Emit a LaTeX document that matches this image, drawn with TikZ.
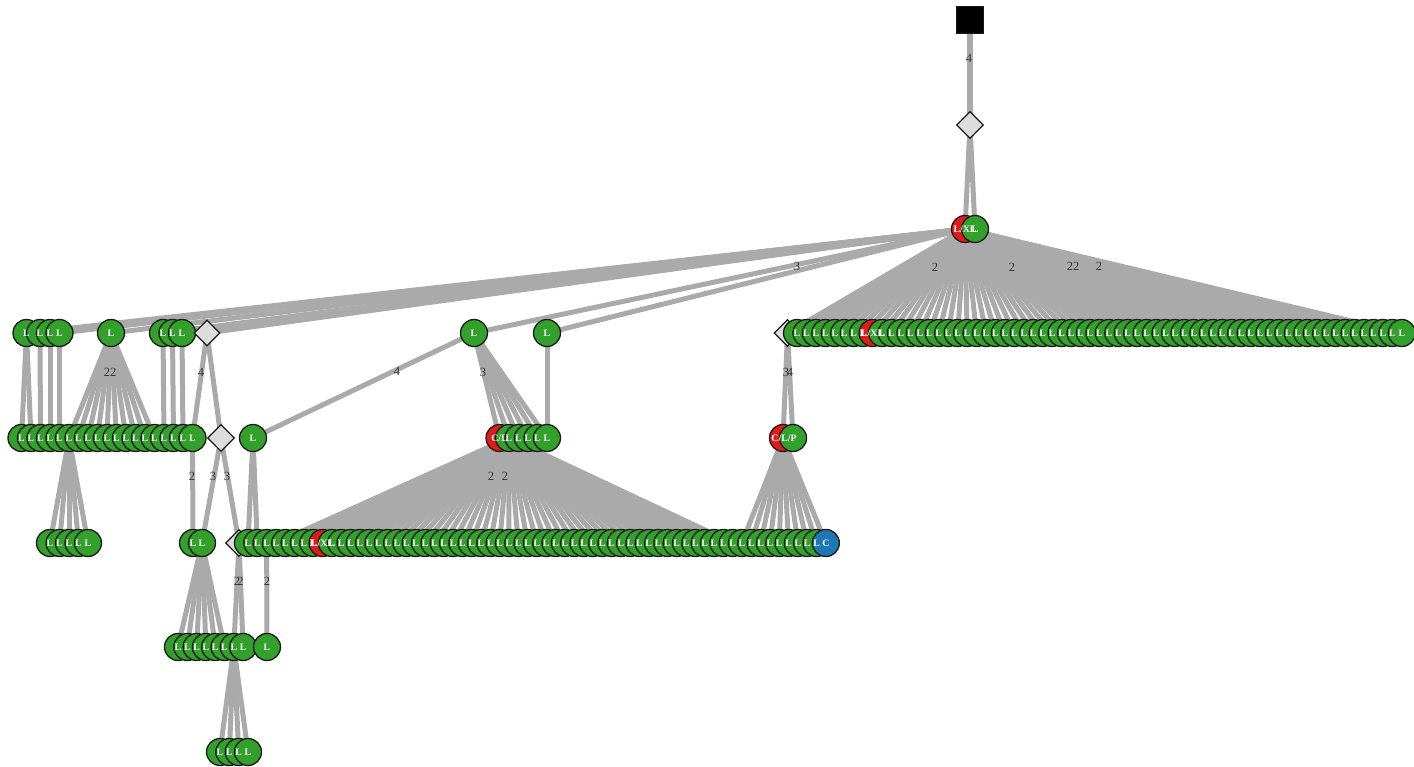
\documentclass[tikz,border=0pt]{standalone}
\usepackage{fontspec}
\setmainfont{Liberation Serif}
\usetikzlibrary{shapes.geometric}
\pgfdeclarelayer{bg}
\pgfsetlayers{bg,main}
\definecolor{lgreen}{HTML}{33A02C}
\definecolor{lred}{HTML}{E31A1C}
\definecolor{lblue}{HTML}{1F78B4}
\definecolor{egray}{HTML}{AAAAAA}
\definecolor{jgray}{HTML}{DDDDDD}
\definecolor{outl}{HTML}{1A1A1A}
\definecolor{ltext}{HTML}{333333}
\begin{document}
\begin{tikzpicture}[x=1pt,y=-1pt,
  leaf/.style={circle, draw=outl, line width=1.3pt, fill=lgreen, minimum size=27pt, inner sep=0pt},
  redleaf/.style={leaf, fill=lred},
  blueleaf/.style={leaf, fill=lblue},
  junc/.style={diamond, draw=outl, line width=1.3pt, fill=jgray, minimum size=27pt, inner sep=0pt},
  rootbox/.style={rectangle, draw=outl, line width=1pt, fill=black, minimum size=27pt, inner sep=0pt},
  edge/.style={draw=egray, line width=5pt},
  elab/.style={font=\fontsize{12.5}{12.5}\selectfont, text=ltext, inner sep=0pt},
  nlab/.style={font=\fontsize{9.8}{9.8}\selectfont\bfseries, text=white, inner sep=0pt}]
\useasboundingbox (0,0) rectangle (1414,767);

% ---------- nodes ----------
\node[rootbox] (root) at (970,20) {};
\node[junc] (d0) at (970,125) {};
\node[redleaf] (t1) at (965,229) {};
\node[leaf] (t2) at (975,229) {};

% row 2
\node[leaf] (A0) at (26.5,333) {};
\node[leaf] (A1) at (40,333) {};
\node[leaf] (A2) at (50,333) {};
\node[leaf] (A3) at (59.5,333) {};
\node[leaf] (B) at (111,333) {};
\node[leaf] (C0) at (163,333) {};
\node[leaf] (C1) at (172.5,333) {};
\node[leaf] (C2) at (182,333) {};
\node[junc, minimum size=26pt] (dA) at (207,333) {};
\node[leaf] (M1) at (474,333) {};
\node[leaf] (M2) at (547,333) {};
\node[junc] (dB) at (787.5,333) {};
\foreach \i in {0,...,64}{
  \ifnum\i=8 \def\st{redleaf}\else\def\st{leaf}\fi
  \node[\st] (b\i) at ({797+9.45*\i},333) {};
}

% row 3
\foreach \i in {0,...,18}{
  \node[leaf] (g\i) at ({21.5+9.5*\i},438) {};
}
\node[junc] (dC) at (221,438) {};
\node[leaf] (N) at (253,438) {};
\foreach \i in {0,...,5}{
  \ifnum\i=0 \def\st{redleaf}\else\def\st{leaf}\fi
  \node[\st] (m\i) at ({499.5+9.5*\i},438) {};
}
\node[redleaf] (p0) at (783,438) {};
\node[leaf] (p1) at (793,438) {};

% row 4
\foreach \i in {0,...,4}{
  \node[leaf] (h\i) at ({50+9.5*\i},543) {};
}
\node[leaf] (q0) at (193,543) {};
\node[leaf] (q1) at (202,543) {};
\node[junc] (dD) at (239,543) {};
\foreach \i in {0,...,62}{
  \ifnum\i=8 \def\st{redleaf}\else
    \ifnum\i=62 \def\st{blueleaf}\else\def\st{leaf}\fi\fi
  \node[\st] (c\i) at ({248+9.32*\i},543) {};
}

% row 5
\foreach \i in {0,...,7}{
  \node[leaf] (s\i) at ({178+9.3*\i},647) {};
}
\node[leaf] (S) at (267,647) {};

% row 6
\foreach \i in {0,...,3}{
  \node[leaf] (u\i) at ({220+9.33*\i},752) {};
}

% ---------- node labels (on top) ----------
\node[nlab] (lt1) at (t1.center) {L/XL};
\node[nlab] (lt2) at (t2.center) {L};
\foreach \n in {A0,A1,A2,A3,B,C0,C1,C2,M1,M2,N,q0,q1,S}{
  \node[nlab] (l\n) at (\n.center) {L};
}
\foreach \i in {0,...,64}{
  \ifnum\i=8 \def\tx{L/XL}\else\def\tx{L}\fi
  \node[nlab] (lb\i) at (b\i.center) {\tx};
}
\foreach \i in {0,...,18}{ \node[nlab] (lg\i) at (g\i.center) {L}; }
\foreach \i in {0,...,5}{
  \ifnum\i=0 \def\tx{C/L}\else\def\tx{L}\fi
  \node[nlab] (lm\i) at (m\i.center) {\tx};
}
\node[nlab] (lp0) at ([xshift=1pt]p0.center) {C/L/P};
\foreach \i in {0,...,4}{ \node[nlab] (lh\i) at (h\i.center) {L}; }
\foreach \i in {0,...,62}{
  \ifnum\i=8 \def\tx{L/XL}\else
    \ifnum\i=62 \def\tx{C}\else\def\tx{L}\fi\fi
  \node[nlab] (lc\i) at (c\i.center) {\tx};
}
\foreach \i in {0,...,7}{ \node[nlab] (ls\i) at (s\i.center) {L}; }
\foreach \i in {0,...,3}{ \node[nlab] (lu\i) at (u\i.center) {L}; }

% ---------- edges ----------
\begin{pgfonlayer}{bg}
\draw[edge, line width=6pt] (root.center) -- (d0.center);
\draw[edge] (d0.center) -- (t1.center);
\draw[edge] (d0.center) -- (t2.center);
\foreach \n in {A0,A1,A2,A3,B,C0,C1,C2,dA,M1,M2}{
  \draw[edge] (t1.center) -- (\n.center);
}
\draw[edge] (t1.center) -- (dB.center);
\foreach \i in {0,...,64}{ \draw[edge] (t1.center) -- (b\i.center); }
% row 2 -> row 3
\draw[edge] (A0.center) -- (g0.center);
\draw[edge] (A0.center) -- (g1.center);
\draw[edge] (A1.center) -- (g2.center);
\draw[edge] (A2.center) -- (g3.center);
\draw[edge] (A3.center) -- (g4.center);
\foreach \i in {5,...,14}{ \draw[edge] (B.center) -- (g\i.center); }
\draw[edge] (C0.center) -- (g15.center);
\draw[edge] (C1.center) -- (g16.center);
\draw[edge] (C2.center) -- (g17.center);
\draw[edge] (dA.center) -- (g18.center);
\draw[edge] (dA.center) -- (dC.center);
\draw[edge] (M1.center) -- (N.center);
\foreach \i in {0,...,5}{ \draw[edge] (M1.center) -- (m\i.center); }
\draw[edge] (M2.center) -- (m5.center);
\draw[edge] (dB.center) -- (p0.center);
\draw[edge] (dB.center) -- (p1.center);
% row 3 -> row 4
\foreach \i in {0,...,4}{ \draw[edge] (g5.center) -- (h\i.center); }
\draw[edge] (g18.center) -- (q0.center);
\draw[edge] (dC.center) -- (q1.center);
\draw[edge] (dC.center) -- (dD.center);
\draw[edge] (N.center) -- (c0.center);
\draw[edge] (N.center) -- (c1.center);
\foreach \j in {3,...,52}{ \draw[edge] (m1.center) -- (c\j.center); }
\foreach \j in {53,...,62}{ \draw[edge] (p0.center) -- (c\j.center); }
% row 4 -> row 5
\foreach \i in {0,...,5}{ \draw[edge] (q1.center) -- (s\i.center); }
\draw[edge] (dD.center) -- (s6.center);
\draw[edge] (dD.center) -- (s7.center);
\draw[edge] (c2.center) -- (S.center);
% row 5 -> row 6
\foreach \i in {0,...,3}{ \draw[edge] (s6.center) -- (u\i.center); }
\end{pgfonlayer}

% ---------- edge labels ----------
\node[elab] (e1) at (969,58) {4};
\node[elab] (e2) at (797,266) {3};
\node[elab] (e3) at (935,267) {2};
\node[elab] (e4) at (1012,267) {2};
\node[elab] (e5) at (1073,266) {22};
\node[elab] (e6) at (1099,266) {2};
\node[elab] (e7) at (110,372) {22};
\node[elab] (e8) at (201,372) {4};
\node[elab] (e9) at (397,371) {4};
\node[elab] (e10) at (483,372) {3};
\node[elab] (e11a) at (786,372) {3};
\node[elab] (e11b) at (790,372) {4};
\node[elab] (e12) at (192,476) {2};
\node[elab] (e13) at (213,476) {3};
\node[elab] (e14) at (227,476) {3};
\node[elab] (e15) at (491,476) {2};
\node[elab] (e16) at (505,476) {2};
\node[elab] (e17a) at (237,581) {2};
\node[elab] (e17b) at (240.5,581) {2};
\node[elab] (e18) at (267,581) {2};
\end{tikzpicture}
\end{document}
